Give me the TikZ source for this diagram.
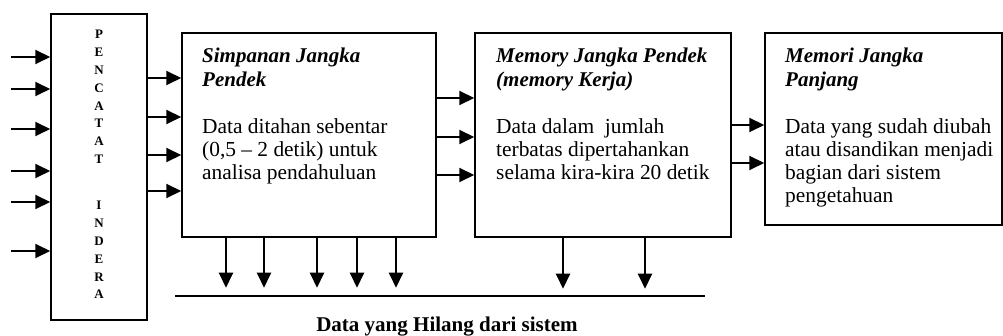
\documentclass[tikz,border=0pt]{standalone}
\usepackage{fontspec}
\setmainfont{Liberation Serif}
\usetikzlibrary{arrows.meta}
\begin{document}
\begin{tikzpicture}[x=1pt,y=-1pt,
  box/.style={draw, line width=1.5pt, rectangle, inner sep=0pt},
  arr/.style={line width=2pt, -{Triangle[length=15pt,width=14pt]}},
  ttl/.style={anchor=base west, align=left, inner sep=0pt, font=\fontsize{21}{24}\selectfont\bfseries\itshape},
  bdy/.style={anchor=base west, align=left, inner sep=0pt, font=\fontsize{21.4}{23}\selectfont},
  lbl/.style={anchor=base, inner sep=0pt, font=\fontsize{21}{24}\selectfont\bfseries}
]
\useasboundingbox (0,0) rectangle (1003,336);
% boxes
\node[box, minimum width=96pt, minimum height=306pt] (pc) at (99,167) {};
\node[box, minimum width=254pt, minimum height=204pt] (sjp) at (309,135) {};
\node[box, minimum width=256pt, minimum height=204pt] (mjp) at (603,135) {};
\node[box, minimum width=237pt, minimum height=192pt] (mjpj) at (883.5,129) {};
% vertical label (base = last line)
\node[anchor=base, align=center, inner sep=0pt, font=\fontsize{13}{17.8}\selectfont\bfseries] (pctxt) at (99,299)
  {P\\E\\N\\C\\A\\T\\A\\T\\[28.6pt]I\\N\\D\\E\\R\\A};
% texts (base = last line)
\node[ttl] (t2) at (202,87) {Simpanan Jangka\\Pendek};
\node[bdy] (b2) at (202,180) {Data ditahan sebentar\\(0,5 – 2 detik) untuk\\analisa pendahuluan};
\node[ttl] (t3) at (496,87) {Memory Jangka Pendek\\(memory Kerja)};
\node[bdy] (b3) at (496,180) {Data dalam\ \ jumlah\\terbatas dipertahankan\\selama kira-kira 20 detik};
\node[ttl] (t4) at (785,87) {Memori Jangka\\Panjang};
\node[bdy] (b4) at (785,203) {Data yang sudah diubah\\atau disandikan menjadi\\bagian dari sistem\\pengetahuan};
% input arrows
\foreach \y [count=\i] in {57,89,129,171,202,251} {
  \coordinate (s\i) at (11,\y);
  \draw[arr] (s\i) -- (s\i -| pc.west);
}
\foreach \y in {78,117,155,191}
  \draw[arr] (pc.east |- 0,\y) -- (sjp.west |- 0,\y);
\foreach \y in {98,137,175}
  \draw[arr] (sjp.east |- 0,\y) -- (mjp.west |- 0,\y);
\foreach \y in {125,163}
  \draw[arr] (mjp.east |- 0,\y) -- (mjpj.west |- 0,\y);
% lost data arrows
\foreach \x in {226,264,317,357,396}
  \draw[arr] (sjp.south -| \x,0) -- ++(0,50);
\foreach \x in {563,645}
  \draw[arr] (mjp.south -| \x,0) -- ++(0,51);
\coordinate (lossL) at (175,296);
\coordinate (lossR) at (705,296);
\draw[line width=2pt] (lossL) -- (lossR);
\node[lbl] (lost) at (447,331) {Data yang Hilang dari sistem};
\end{tikzpicture}
\end{document}
